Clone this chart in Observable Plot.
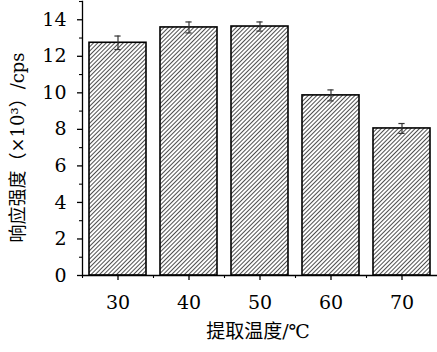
<!DOCTYPE html>
<html>
<head>
<meta charset="utf-8">
<script src="https://cdn.jsdelivr.net/npm/d3@7"></script>
<script src="https://cdn.jsdelivr.net/npm/@observablehq/plot@0.6"></script>
<style>
  html, body { margin: 0; padding: 0; background: #fff; }
  #chart svg { display: block; }
</style>
</head>
<body>
<div id="chart"></div>
<script>
const categories = ["30", "40", "50", "60", "70"];
const values = [12.74, 13.58, 13.63, 9.86, 8.05];
const errors = [0.37, 0.3, 0.25, 0.3, 0.27];
const majorTicks = [0, 2, 4, 6, 8, 10, 12, 14];
const minorTicks = [1, 3, 5, 7, 9, 11, 13, 15];
const xLabel = "提取温度/℃";
const yLabel = "响应强度（×10³）/cps";

const data = categories.map((c, i) => ({cat: c, v: values[i], e: errors[i]}));

const W = 437, H = 352, mL = 82, mR = 0, mT = 1, mB = 77;
const halfStep = (W - mL - mR) / categories.length / 2;
const serif = "DejaVu Serif, Noto Sans CJK SC";

const chart = Plot.plot({
  width: W, height: H,
  marginLeft: mL, marginRight: mR, marginTop: mT, marginBottom: mB,
  style: {background: "#fff", color: "#000", fontFamily: serif},
  x: {type: "band", domain: categories, paddingInner: 0.2, paddingOuter: 0.1, label: null},
  y: {domain: [0, 15], label: null},
  marks: [
    Plot.barY(data, {x: "cat", y: "v", fill: "url(#hatch)", stroke: "#000", strokeWidth: 1.6}),
    Plot.ruleX(data, {x: "cat", y1: d => d.v - d.e, y2: d => d.v + d.e, stroke: "#333", strokeWidth: 1.2}),
    Plot.tickY(data, {x: "cat", y: d => d.v + d.e, stroke: "#333", strokeWidth: 1.2, insetLeft: 25.4, insetRight: 25.4}),
    Plot.tickY(data, {x: "cat", y: d => d.v - d.e, stroke: "#333", strokeWidth: 1.2, insetLeft: 25.4, insetRight: 25.4}),
    Plot.frame({anchor: "left", stroke: "#000", strokeWidth: 1.3}),
    Plot.ruleY([0], {stroke: "#000", strokeWidth: 1.3}),
    Plot.axisY(majorTicks, {tickSize: 5, tickPadding: 11, fontSize: 19, fontFamily: serif, label: null, strokeWidth: 1.3}),
    Plot.axisY(minorTicks, {tickSize: 3, tickFormat: () => "", label: null, strokeWidth: 1.1}),
    Plot.axisX(categories, {tickSize: 5, tickPadding: 15, fontSize: 19, fontFamily: serif, label: null, strokeWidth: 1.3}),
    Plot.axisX(categories, {tickSize: 3, tickFormat: () => "", label: null, dx: -halfStep, strokeWidth: 1.1}),
    Plot.text([yLabel], {frameAnchor: "left", textAnchor: "middle", text: d => d, rotate: -90, dx: -64, dy: 9, fontSize: 18, fontFamily: serif, fill: "#000"}),
    Plot.text([xLabel], {frameAnchor: "bottom", textAnchor: "middle", text: d => d, dy: 62, dx: -2, fontSize: 19, fontFamily: serif, fill: "#000"})
  ]
});

d3.select(chart).insert("defs", ":first-child").html(
  '<pattern id="hatch" patternUnits="userSpaceOnUse" width="3" height="3" patternTransform="rotate(45)">' +
  '<rect width="3" height="3" fill="#fff"/>' +
  '<line x1="0" y1="0" x2="0" y2="3" stroke="#222" stroke-width="1.6"/></pattern>'
);

document.getElementById("chart").appendChild(chart);
</script>
</body>
</html>
